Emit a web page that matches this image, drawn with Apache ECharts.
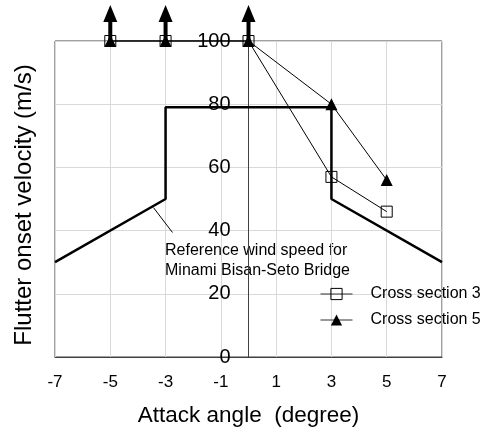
<!DOCTYPE html>
<html><head><meta charset="utf-8">
<script src="https://cdn.jsdelivr.net/npm/echarts@6/dist/echarts.min.js"></script>
<style>html,body{margin:0;padding:0;background:#fff}#c{width:486px;height:428px}</style>
</head><body><div id="c"></div>
<script>
const xMin = -7, xMax = 7, xStep = 2;
const yMin = 0, yMax = 100, yStep = 20;
const refAngle = [-7, -3, -3, 3, 3, 7];
const refSpeed = [30, 50, 79, 79, 50, 30];
const cs3Angle = [-5, -3, 0, 3, 5];
const cs3Speed = [100, 100, 100, 57, 46];
const cs5Angle = [-5, -3, 0, 3, 5];
const cs5Speed = [100, 100, 100, 80, 56];
const arrowAngle = [-5, -3, 0];
const arrowBase = [100, 100, 100];
const arrowTip = [111.4, 111.4, 111.4];
const leaderStart = [-3.44, 47.3];
const leaderEnd = [-2.75, 39.4];
const refNote = 'Reference wind speed for\nMinami Bisan-Seto Bridge';
const xTitle = 'Attack angle  (degree)';
const yTitle = 'Flutter onset velocity (m/s)';
const legendNames = ['Cross section 3', 'Cross section 5'];

const FONT = '"Liberation Sans", Arial, sans-serif';
const zip = (a, b) => a.map((v, i) => [v, b[i]]);
const GRID_LEFT = 55;

const chart = echarts.init(document.getElementById('c'), null, {renderer: 'canvas'});
chart.setOption({
  backgroundColor: '#fff',
  animation: false,
  textStyle: {fontFamily: FONT, color: '#000'},
  grid: {left: GRID_LEFT, right: 44, top: 41, bottom: 71, show: true, borderColor: '#404040', borderWidth: 1,
         containLabel: false, outerBoundsMode: 'none'},
  legend: {
    data: legendNames, orient: 'vertical', left: 315, top: 281, itemWidth: 32, itemHeight: 14, itemGap: 10,
    lineStyle: {width: 1, color: '#333'},
    itemStyle: {borderWidth: 1},
    textStyle: {fontSize: 16, fontFamily: FONT, color: '#000', padding: [0, 0, 0, 13]},
    selectedMode: false
  },
  xAxis: {
    type: 'value', min: xMin, max: xMax, interval: xStep,
    name: xTitle, nameLocation: 'middle', nameGap: 47,
    nameTextStyle: {fontSize: 22.5, fontFamily: FONT, color: '#000'},
    axisLine: {show: true, onZero: false, lineStyle: {color: '#404040', width: 1}},
    axisTick: {show: false},
    axisLabel: {fontSize: 17, color: '#000', margin: 17, fontFamily: FONT},
    splitLine: {show: true, lineStyle: {color: '#d9d9d9', width: 1}}
  },
  yAxis: {
    type: 'value', min: yMin, max: yMax, interval: yStep, position: 'left', offset: 0,
    axisLine: {show: true, onZero: false, lineStyle: {color: '#404040', width: 1}},
    axisTick: {show: false},
    axisLabel: {fontSize: 20, color: '#000', margin: 18, fontFamily: FONT},
    splitLine: {show: true, lineStyle: {color: '#d9d9d9', width: 1}}
  },
  graphic: [
    {type: 'text', x: 24, y: 205, rotation: Math.PI / 2,
     style: {text: yTitle, fontSize: 24, fontFamily: FONT, fill: '#000', align: 'center', verticalAlign: 'middle'}},
    {type: 'text', x: 165, y: 241,
     style: {text: refNote, fontSize: 16, lineHeight: 20, fontFamily: FONT, fill: '#000', align: 'left', verticalAlign: 'top'}}
  ],
  series: [
    {
      name: 'Reference', type: 'line', data: zip(refAngle, refSpeed), symbol: 'none',
      lineStyle: {color: '#000', width: 2.5}, z: 3, silent: true,
      markLine: {
        silent: true, symbol: ['none', 'none'], label: {show: false},
        lineStyle: {color: '#000', width: 1, type: 'solid'},
        data: [[{coord: leaderStart}, {coord: leaderEnd}]]
      }
    },
    {
      name: legendNames[0], type: 'line', data: zip(cs3Angle, cs3Speed),
      symbol: 'rect', symbolSize: 11, clip: false,
      itemStyle: {color: 'rgba(0,0,0,0)', borderColor: '#000', borderWidth: 1},
      lineStyle: {color: '#000', width: 1}, z: 4
    },
    {
      name: legendNames[1], type: 'line', data: zip(cs5Angle, cs5Speed),
      symbol: 'triangle', symbolSize: [12, 12], clip: false,
      itemStyle: {color: '#000'},
      lineStyle: {color: '#000', width: 1}, z: 5
    },
    {
      name: 'arrows', type: 'custom', clip: false, z: 6, silent: true,
      data: arrowAngle.map((a, i) => [a, arrowBase[i], arrowTip[i]]),
      renderItem: function (params, api) {
        const base = api.coord([api.value(0), api.value(1)]);
        const tip = api.coord([api.value(0), api.value(2)]);
        const headH = 17, headW = 14;
        return {
          type: 'group',
          children: [
            {type: 'line', shape: {x1: base[0], y1: base[1], x2: tip[0], y2: tip[1] + headH - 1},
             style: {stroke: '#000', lineWidth: 4}},
            {type: 'polygon', shape: {points: [[tip[0], tip[1]], [tip[0] - headW / 2, tip[1] + headH], [tip[0] + headW / 2, tip[1] + headH]]},
             style: {fill: '#000'}}
          ]
        };
      }
    }
  ]
});
// place the y axis on the x = 0 line using the library's own x scale
const zeroX = chart.convertToPixel({xAxisIndex: 0}, 0);
chart.setOption({yAxis: {offset: GRID_LEFT - zeroX}});
</script></body></html>
